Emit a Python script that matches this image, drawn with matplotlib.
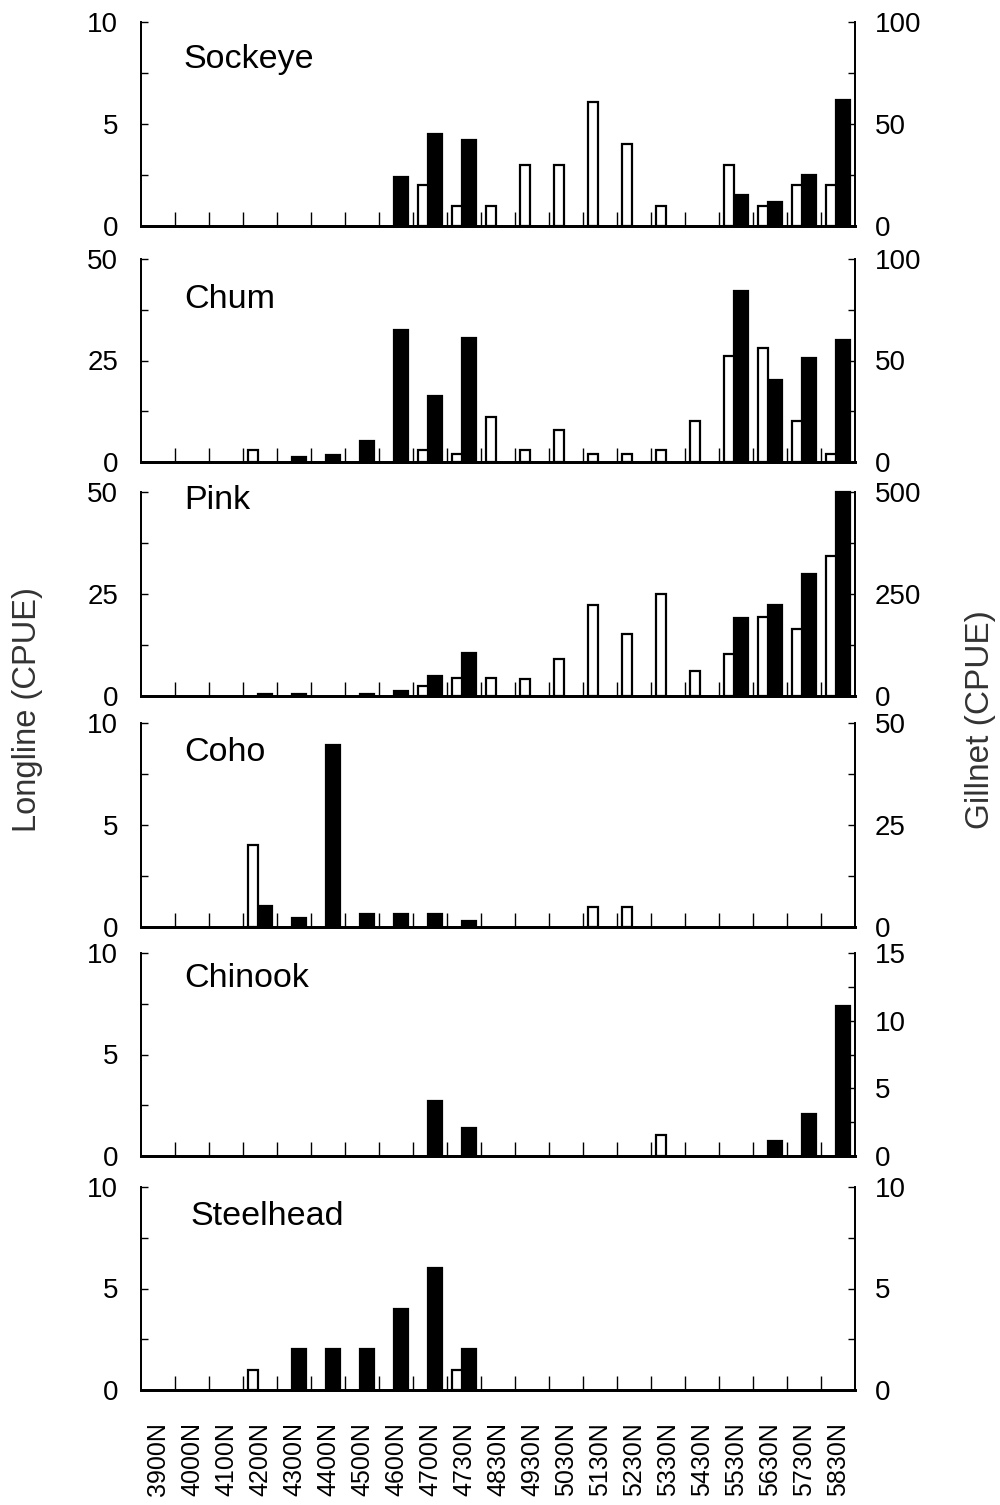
import numpy as np
import matplotlib
matplotlib.use("Agg")
import matplotlib.pyplot as plt
from matplotlib.ticker import FixedLocator

plt.rcParams['font.family'] = ['Liberation Sans', 'DejaVu Sans']

# latitude bins along the transect
stations = ['3900N', '4000N', '4100N', '4200N', '4300N', '4400N', '4500N',
            '4600N', '4700N', '4730N', '4830N', '4930N', '5030N', '5130N',
            '5230N', '5330N', '5430N', '5530N', '5630N', '5730N', '5830N']

# longline CPUE (white bars, left axis)
sockeye_ll = [0, 0, 0, 0, 0, 0, 0, 0, 2, 1, 1, 3, 3, 6.1, 4, 1, 0, 3, 1, 2, 2]
chum_ll = [0, 0, 0, 3, 0, 0, 0, 0, 3, 2, 11, 3, 8, 2, 2, 3, 10, 26, 28, 10, 2]
pink_ll = [0, 0, 0, 0, 0, 0, 0, 0, 2.4, 4.5, 4.5, 4.2, 9.1, 22.2, 15.3, 25.1, 6.2, 10.2, 19.4, 16.3, 34.3]
coho_ll = [0, 0, 0, 4, 0, 0, 0, 0, 0, 0, 0, 0, 0, 1, 1, 0, 0, 0, 0, 0, 0]
chinook_ll = [0, 0, 0, 0, 0, 0, 0, 0, 0, 0, 0, 0, 0, 0, 0, 1.05, 0, 0, 0, 0, 0]
steelhead_ll = [0, 0, 0, 1, 0, 0, 0, 0, 0, 1, 0, 0, 0, 0, 0, 0, 0, 0, 0, 0, 0]

# gillnet CPUE (black bars, right axis)
sockeye_gn = [0, 0, 0, 0, 0, 0, 0, 24, 45, 42, 0, 0, 0, 0, 0, 0, 0, 15, 12, 25, 62]
chum_gn = [0, 0, 0, 0, 2.3, 3.3, 10.5, 65, 32.5, 61, 0, 0, 0, 0, 0, 0, 0, 84, 40.5, 51, 60]
pink_gn = [0, 0, 0, 5, 5, 0, 6, 12, 50, 105, 0, 0, 0, 0, 0, 0, 0, 191, 222, 299, 500]
coho_gn = [0, 0, 0, 5.2, 2.3, 44.5, 3.3, 3.3, 3.3, 1.4, 0, 0, 0, 0, 0, 0, 0, 0, 0, 0, 0]
chinook_gn = [0, 0, 0, 0, 0, 0, 0, 0, 4.1, 2.1, 0, 0, 0, 0, 0, 0, 0, 0, 1.1, 3.1, 11.1]
steelhead_gn = [0, 0, 0, 0, 2, 2, 2, 4, 6, 2, 0, 0, 0, 0, 0, 0, 0, 0, 0, 0, 0]

species = ['Sockeye', 'Chum', 'Pink', 'Coho', 'Chinook', 'Steelhead']
longline = [sockeye_ll, chum_ll, pink_ll, coho_ll, chinook_ll, steelhead_ll]
gillnet = [sockeye_gn, chum_gn, pink_gn, coho_gn, chinook_gn, steelhead_gn]
left_max = [10, 50, 50, 10, 10, 10]
right_max = [100, 100, 500, 50, 15, 10]
right_step = [50, 50, 250, 25, 5, 5]

# panel top/bottom in pixels, label spots in axes coords
panel_px = [(22, 226), (259, 462), (492, 696), (723, 927), (953, 1156), (1187, 1390)]
label_pos = [(0.06, 0.815), (0.06, 0.80), (0.06, 0.96), (0.06, 0.855), (0.06, 0.875), (0.069, 0.855)]

W, H = 1000, 1505
fig = plt.figure(figsize=(W / 100, H / 100), dpi=100)

x = np.arange(len(stations))
left_px, right_px = 141, 855
fs = 20

for i, name in enumerate(species):
    top, bot = panel_px[i]
    ax = fig.add_axes([left_px / W, 1 - bot / H, (right_px - left_px) / W, (bot - top) / H])
    ax2 = ax.twinx()

    ll = np.array(longline[i], dtype=float)
    gn = np.array(gillnet[i], dtype=float)
    m1 = ll > 0
    m2 = gn > 0
    ax.bar(x[m1] - 0.205, ll[m1], width=0.31, color='white', edgecolor='black',
           linewidth=1.6, zorder=3)
    ax2.bar(x[m2] + 0.15, gn[m2], width=0.40, color='black', edgecolor='black',
            linewidth=1.6, zorder=3, clip_on=False)

    ax.set_xlim(-0.5, len(stations) - 0.5)
    ax.set_ylim(0, left_max[i])
    ax2.set_ylim(0, right_max[i])

    lm = left_max[i]
    ax.yaxis.set_major_locator(FixedLocator([0, lm / 2, lm]))
    ax.yaxis.set_minor_locator(FixedLocator([lm / 4, 3 * lm / 4]))
    ax.set_yticklabels([f'{v:g}' for v in [0, lm / 2, lm]])
    rm, rs = right_max[i], right_step[i]
    rmaj = np.arange(0, rm + rs / 2, rs)
    ax2.yaxis.set_major_locator(FixedLocator(rmaj))
    ax2.yaxis.set_minor_locator(FixedLocator(rmaj[:-1] + rs / 2))
    ax2.set_yticklabels([f'{v:g}' for v in rmaj])

    ax.tick_params(axis='y', which='both', direction='in', length=5, width=1,
                   pad=16.5, labelsize=fs)
    ax2.tick_params(axis='y', which='both', direction='in', length=5, width=1,
                    pad=14, labelsize=fs)

    ax.xaxis.set_major_locator(FixedLocator(x))
    ax.xaxis.set_minor_locator(FixedLocator(np.arange(0.5, len(stations) - 1, 1.0)))
    ax.tick_params(axis='x', which='major', length=0, pad=23, labelsize=18)
    ax.tick_params(axis='x', which='minor', direction='in', length=10, width=1)
    if i == len(species) - 1:
        ax.set_xticklabels(stations, rotation=90)
    else:
        ax.set_xticklabels([])

    for a in (ax, ax2):
        a.spines['top'].set_visible(False)
        a.spines['left'].set_linewidth(1.3)
        a.spines['right'].set_linewidth(1.3)
        a.spines['bottom'].set_linewidth(2)
    ax.set_zorder(ax2.get_zorder() + 1)
    ax.patch.set_visible(False)

    ax.text(label_pos[i][0], label_pos[i][1], name, transform=ax.transAxes,
            ha='left', va='center', fontsize=24.5)

fig.text(28 / W, 1 - 710 / H, 'Longline (CPUE)', rotation=90, ha='center', va='center',
         fontsize=23.5, color='#333333')
fig.text(980 / W, 1 - 720 / H, 'Gillnet (CPUE)', rotation=90, ha='center', va='center',
         fontsize=24, color='#333333')

fig.savefig('out.png', dpi=100)
